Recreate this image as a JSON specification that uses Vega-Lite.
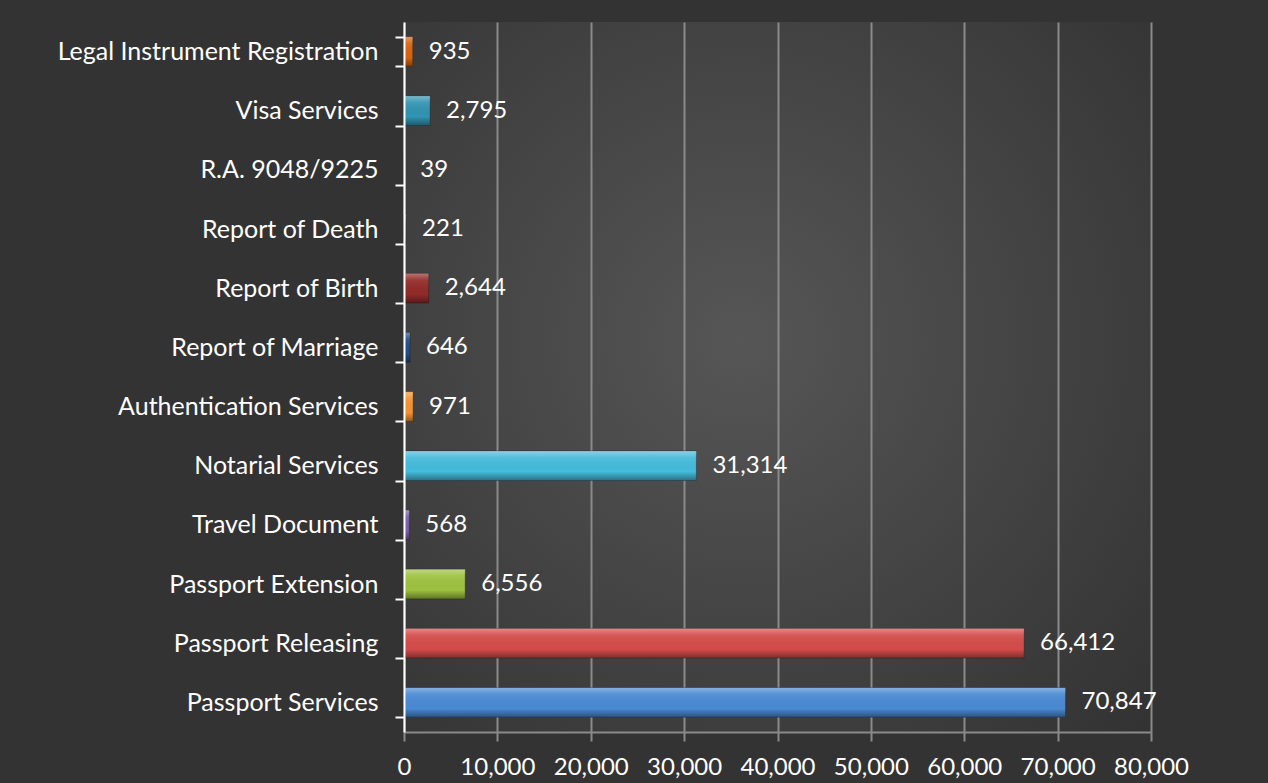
{
  "$schema": "https://vega.github.io/schema/vega-lite/v6.json",
  "width": 747,
  "height": 710,
  "autosize": "none",
  "padding": {"left": 404, "top": 22, "right": 117, "bottom": 51},
  "background": "#333333",
  "config": {
    "font": "Lato",
    "view": {
      "stroke": null,
      "fill": {
        "gradient": "radial",
        "x1": 0.45, "y1": 0.45, "r1": 0,
        "x2": 0.45, "y2": 0.45, "r2": 0.85,
        "stops": [
          {"offset": 0, "color": "#565656"},
          {"offset": 1, "color": "#2e2e2e"}
        ]
      }
    }
  },
  "data": {
    "values": [
      {"service": "Legal Instrument Registration", "count": 935},
      {"service": "Visa Services", "count": 2795},
      {"service": "R.A. 9048/9225", "count": 39},
      {"service": "Report of Death", "count": 221},
      {"service": "Report of Birth", "count": 2644},
      {"service": "Report of Marriage", "count": 646},
      {"service": "Authentication Services", "count": 971},
      {"service": "Notarial Services", "count": 31314},
      {"service": "Travel Document", "count": 568},
      {"service": "Passport Extension", "count": 6556},
      {"service": "Passport Releasing", "count": 66412},
      {"service": "Passport Services", "count": 70847}
    ]
  },
  "encoding": {
    "y": {
      "field": "service",
      "type": "nominal",
      "sort": null,
      "scale": {"paddingInner": 0.5, "paddingOuter": 0.25},
      "axis": {
        "title": null,
        "zindex": 2,
        "domainColor": "#ffffff",
        "domainWidth": 2,
        "tickColor": "#ffffff",
        "tickWidth": 2,
        "tickSize": 9,
        "tickBand": "extent",
        "labelColor": "#ffffff",
        "labelFontSize": 25,
        "labelPadding": 17,
        "labelLimit": 400,
        "grid": false
      }
    },
    "x": {
      "field": "count",
      "type": "quantitative",
      "scale": {"domain": [0, 80000], "nice": false},
      "axis": {
        "title": null,
        "tickCount": 8,
        "labelExpr": "format(datum.value, ',')",
        "grid": true,
        "gridColor": "#8a8a8a",
        "gridWidth": 2,
        "domainColor": "#8a8a8a",
        "domainWidth": 2,
        "tickColor": "#8a8a8a",
        "tickWidth": 2,
        "tickSize": 9,
        "labelColor": "#ffffff",
        "labelFontSize": 24,
        "labelPadding": 14,
        "labelFlush": false,
        "labelOverlap": false
      }
    }
  },
  "layer": [
    {
      "mark": {"type": "bar", "stroke": "#1a1a1a", "strokeOpacity": 0.35, "strokeWidth": 1},
      "encoding": {
        "color": {
          "field": "service",
          "type": "nominal",
          "legend": null,
          "scale": {
            "domain": ["Legal Instrument Registration", "Visa Services", "R.A. 9048/9225", "Report of Death", "Report of Birth", "Report of Marriage", "Authentication Services", "Notarial Services", "Travel Document", "Passport Extension", "Passport Releasing", "Passport Services"],
            "range": ["#d6640f", "#3194b2", "#5f4a80", "#6e8a38", "#922b29", "#1f4e8a", "#f5922e", "#45bbdb", "#7c5eaa", "#9dc23f", "#d44c4a", "#4a8ad4"]
          }
        }
      }
    },
    {
      "mark": {
        "type": "bar",
        "color": {
          "gradient": "linear",
          "x1": 0, "y1": 0, "x2": 0, "y2": 1,
          "stops": [
            {"offset": 0, "color": "rgba(255,255,255,0.35)"},
            {"offset": 0.22, "color": "rgba(255,255,255,0.08)"},
            {"offset": 0.7, "color": "rgba(0,0,0,0.0)"},
            {"offset": 1, "color": "rgba(0,0,0,0.4)"}
          ]
        }
      }
    },
    {
      "mark": {"type": "text", "align": "left", "baseline": "middle", "dx": 16, "color": "#ffffff", "fontSize": 24},
      "encoding": {
        "text": {"field": "count", "type": "quantitative", "format": ","}
      }
    }
  ]
}
